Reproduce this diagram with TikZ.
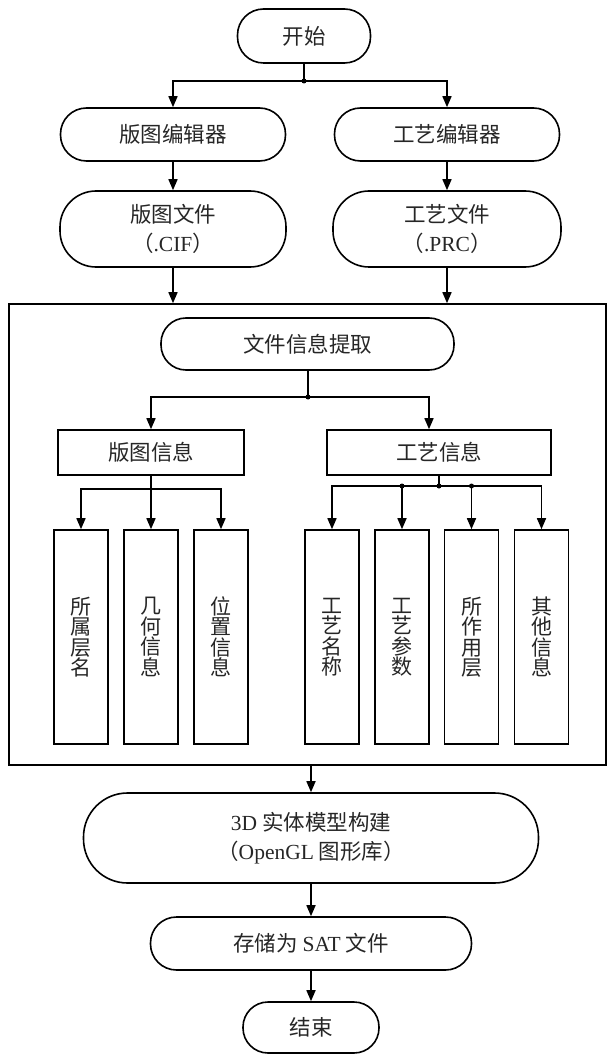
\documentclass[tikz,border=0pt]{standalone}
\usepackage{fontspec}
\setmainfont{Liberation Serif}
\newfontfamily\cjk{Noto Sans CJK SC}
\usetikzlibrary{arrows.meta}
\newcommand\lat[1]{{\rmfamily #1}}
\begin{document}
\begin{tikzpicture}[x=1pt,y=-1pt,
  every node/.style={font=\fontsize{21.5}{29}\selectfont\cjk, text=black!85},
  stadium/.style={draw, line width=1.6pt, rounded corners=#1, inner sep=0pt, align=center},
  infobox/.style={draw, line width=1.6pt, inner sep=0pt, align=center},
  tallbox/.style={draw, line width=1.6pt, inner sep=0pt, align=center, minimum width=54pt, minimum height=214pt,
    font=\fontsize{21}{20.5}\selectfont\cjk},
  conn/.style={line width=1.6pt},
  arr/.style={conn, -{Triangle[length=11pt,width=9pt]}},
  dot/.style={circle, fill=black, inner sep=0pt, minimum size=5pt}
]
\useasboundingbox (0,0) rectangle (609,1056);

% top part
\node[stadium=26pt, minimum width=133pt, minimum height=54pt] (start) at (304,36) {开始};
\coordinate (j1) at (304,81);
\node[stadium=26pt, minimum width=225pt, minimum height=53pt] (ed1) at (173,134.5) {版图编辑器};
\node[stadium=26pt, minimum width=225pt, minimum height=53pt] (ed2) at (447,134.5) {工艺编辑器};
\node[stadium=36pt, minimum width=226pt, minimum height=76pt] (f1) at (173,229) {版图文件\\（\lat{.CIF}）};
\node[stadium=36pt, minimum width=228pt, minimum height=76pt] (f2) at (447,229) {工艺文件\\（\lat{.PRC}）};

% big box
\node[draw, line width=1.6pt, minimum width=597pt, minimum height=461pt, inner sep=0pt] (big) at (307.5,534.5) {};

\node[stadium=25pt, minimum width=293pt, minimum height=52pt] (ext) at (307.5,344) {文件信息提取};
\coordinate (j2) at (308,397);
\node[infobox, minimum width=186pt, minimum height=45pt] (li) at (151,452.5) {版图信息};
\node[infobox, minimum width=224pt, minimum height=45pt] (pi) at (439,452.5) {工艺信息};

\node[tallbox] (a1) at (81,637) {所\\属\\层\\名};
\node[tallbox] (a2) at (151,637) {几\\何\\信\\息};
\node[tallbox] (a3) at (221,637) {位\\置\\信\\息};
\node[tallbox] (b1) at (332,637) {工\\艺\\名\\称};
\node[tallbox] (b2) at (402,637) {工\\艺\\参\\数};
\node[tallbox] (b3) at (471.5,637) {所\\作\\用\\层};
\node[tallbox] (b4) at (541.5,637) {其\\他\\信\\息};

\coordinate (j3) at (151,489);
\coordinate (j4) at (439,486);

% bottom part
\node[stadium=44pt, minimum width=455pt, minimum height=90pt] (model) at (311,838) {\lat{3D} 实体模型构建\\（\lat{OpenGL} 图形库）};
\node[stadium=26pt, minimum width=321pt, minimum height=53pt] (save) at (311,943.5) {存储为 \lat{SAT} 文件};
\node[stadium=25pt, minimum width=136pt, minimum height=51pt] (end) at (311,1027.5) {结束};

% connectors top
\draw[conn] (start.south) -- (j1);
\draw[arr] (j1) -| (ed1.north);
\draw[arr] (j1) -| (ed2.north);
\draw[arr] (ed1) -- (f1);
\draw[arr] (ed2) -- (f2);
\draw[arr] (f1.south) -- (f1.south |- big.north);
\draw[arr] (f2.south) -- (f2.south |- big.north);

% inside
\draw[conn] (ext.south -| j2) -- (j2);
\draw[arr] (j2) -| (li.north);
\draw[arr] (j2) -| ([xshift=-10pt]pi.north);
\draw[conn] (li.south) -- (j3);
\draw[arr] (j3) -| (a1.north);
\draw[arr] (j3) -- (a2.north);
\draw[arr] (j3) -| (a3.north);
\draw[conn] (pi.south) -- (j4);
\draw[arr] (j4) -| (b1.north);
\draw[arr] (j4) -| (b2.north);
\draw[arr] (j4) -| (b3.north);
\draw[arr] (j4) -| (b4.north);

% bottom
\draw[arr] (big.south -| model.north) -- (model.north);
\draw[arr] (model) -- (save);
\draw[arr] (save) -- (end);

% junction dots
\node[dot] at (j1) {};
\node[dot] at (j2) {};
\node[dot] at (j4) {};
\node[dot] at (j4 -| b2) {};
\node[dot] at (j4 -| b3) {};
\end{tikzpicture}
\end{document}
